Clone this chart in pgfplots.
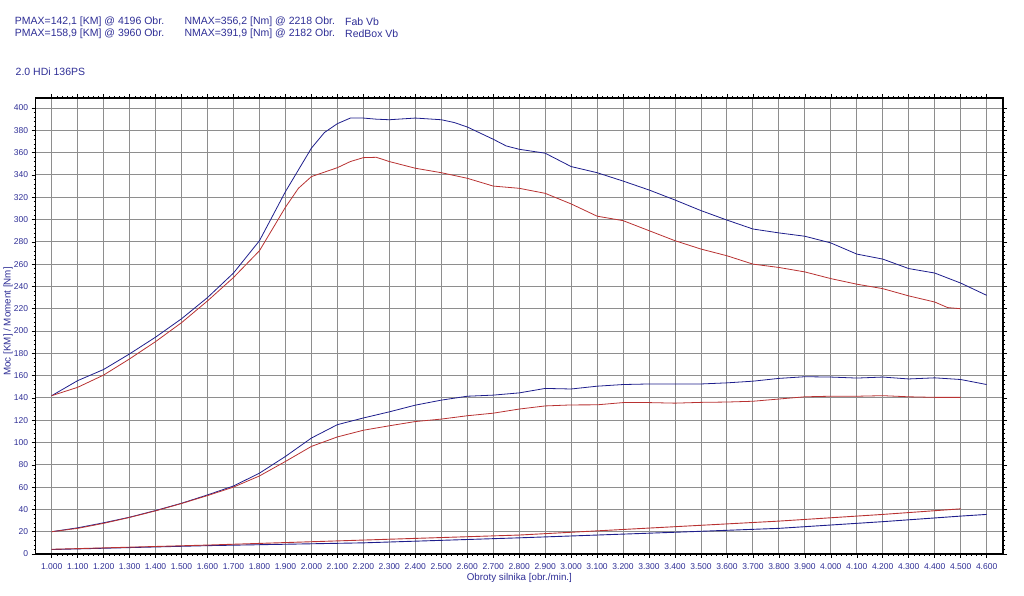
\documentclass[border=0pt]{standalone}
\usepackage{pgfplots}
\pgfplotsset{compat=1.18}
\usepackage{pgfplotstable}
\usepackage{fontspec}
\setmainfont{Liberation Sans}
\definecolor{txtblue}{HTML}{2E2E96}
\definecolor{cblue}{HTML}{1E1E8C}
\definecolor{cred}{HTML}{B83232}
\definecolor{gridgray}{HTML}{8E8E8E}

\pgfplotstableread{
rpm v
1000 142
1100 155.5
1200 165.5
1300 179.5
1400 194.5
1500 211
1600 230
1700 252
1800 281
1900 325
2000 364
2050 378
2100 386
2150 391
2200 391
2250 390
2300 389.5
2400 391
2500 389.5
2550 387
2600 383
2700 372
2750 366
2800 363
2900 359.5
3000 347.5
3100 342
3200 334.5
3300 326.5
3400 317.5
3500 308
3600 299.5
3700 291.5
3800 288
3900 285
4000 279
4100 269
4200 264.5
4300 256
4400 252
4500 243
4600 232
}\bluetorque

\pgfplotstableread{
rpm v
1000 142
1100 149.5
1200 160.5
1300 175
1400 190.5
1500 207.5
1600 227
1700 248
1800 272
1900 311
1950 328
2000 338.5
2100 346.5
2150 352
2200 355.5
2250 355.8
2300 352
2400 346
2500 342
2600 337
2700 330
2800 328
2900 323.5
3000 314
3100 303
3200 299
3300 290
3400 281
3500 273.5
3600 267.5
3700 260
3800 257
3900 253
4000 247
4100 242
4200 238
4300 231.5
4400 226
4450 221
4500 220
}\redtorque

\pgfplotstableread{
rpm v
1000 20
1100 23.5
1200 28
1300 33
1400 39
1500 45.5
1600 53
1700 61
1800 72.5
1900 87.5
2000 104
2100 116
2200 122
2300 127.5
2400 133.5
2500 138
2600 141.5
2700 142.5
2800 144.5
2900 148.5
3000 148
3100 150.5
3200 152
3300 152.5
3400 152.5
3500 152.5
3600 153.5
3700 155
3800 157.5
3900 159
4000 158.7
4100 157.8
4200 158.7
4300 157
4400 158
4500 156.5
4600 152
}\bluepower

\pgfplotstableread{
rpm v
1000 20
1100 23
1200 27.5
1300 32.8
1400 38.7
1500 45.3
1600 52.4
1700 60
1800 70
1900 83
2000 96.5
2100 105
2200 111
2300 115
2400 118.8
2500 121
2600 124
2700 126.3
2800 130
2900 132.8
3000 133.7
3100 133.8
3200 135.8
3300 135.8
3400 135.3
3500 136
3600 136.3
3700 137
3800 139
3900 141
4000 141.5
4100 141.5
4200 142
4300 141
4400 140.5
4500 140.5
}\redpower

\pgfplotstableread{
rpm v
1000 4
1600 7.5
2200 10
2800 14.5
3400 19.5
3800 23
4200 29
4500 34
4600 35.5
}\blueloss

\pgfplotstableread{
rpm v
1000 4.2
1600 8
2200 12.5
2800 17
3400 24.5
3800 29.5
4200 35.5
4500 40.5
}\redloss

\begin{document}
\begin{tikzpicture}[x=1pt,y=1pt]
\useasboundingbox (0,0) rectangle (1024,596);
\begin{axis}[
  at={(35.7pt,42pt)}, anchor=south west,
  scale only axis, width=967.3pt, height=456pt,
  xmin=938.4, xmax=4663, ymin=0, ymax=409,
  xtick={1000,1100,...,4600},
  ytick={0,20,...,400},
  minor x tick num=4, minor y tick num=4,
  tick align=outside,
  major tick length=4pt, minor tick length=2pt,
  tick style={black, line width=0.6pt},
  minor tick style={black, line width=0.4pt},
  grid=major,
  major grid style={gridgray, line width=0.9pt},
  axis line style={black, line width=1.6pt},
  /pgf/number format/assume math mode=true,
  /pgf/number format/1000 sep={.},
  /pgf/number format/min exponent for 1000 sep=3,
  ticklabel style={font=\fontsize{8.5}{10}\selectfont, text=txtblue},
  xticklabel style={yshift=-2pt},
  xlabel={Obroty silnika [obr./min.]},
  ylabel={Moc [KM] / Moment [Nm]},
  label style={font=\fontsize{9.8}{11}\selectfont, text=txtblue},
  xlabel style={at={(axis description cs:0.5,-0.0526)}, anchor=center},
  ylabel style={at={(axis description cs:-0.0285,0.51)}, anchor=center},
  clip=false,
]
\addplot[cblue, line width=0.8pt] table[x=rpm,y=v] {\bluetorque};
\addplot[cred, line width=0.8pt] table[x=rpm,y=v] {\redtorque};
\addplot[cblue, line width=0.8pt] table[x=rpm,y=v] {\bluepower};
\addplot[cred, line width=0.8pt] table[x=rpm,y=v] {\redpower};
\addplot[cblue, line width=0.9pt] table[x=rpm,y=v] {\blueloss};
\addplot[cred, line width=0.9pt] table[x=rpm,y=v] {\redloss};
\end{axis}
\begin{scope}[every node/.style={anchor=west, inner sep=0pt, text=txtblue, font=\fontsize{10.5}{12}\selectfont}]
\node at (14.7,574) {PMAX=142,1 [KM] @ 4196 Obr.};
\node at (14.7,562) {PMAX=158,9 [KM] @ 3960 Obr.};
\node at (184.3,574) {NMAX=356,2 [Nm] @ 2218 Obr.};
\node at (184.3,562) {NMAX=391,9 [Nm] @ 2182 Obr.};
\node at (345,574) {Fab Vb};
\node at (345,562) {RedBox Vb};
\node at (15.5,524) {2.0 HDi 136PS};
\end{scope}
\end{tikzpicture}
\end{document}
